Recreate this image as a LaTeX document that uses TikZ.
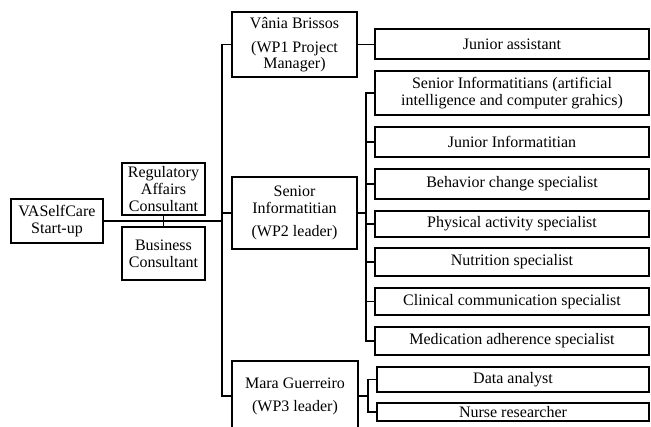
\documentclass[tikz,border=0pt]{standalone}
\usepackage{fontspec}
\setmainfont{Liberation Serif}
\begin{document}
\begin{tikzpicture}[x=1pt,y=-1pt,
  box/.style={draw, line width=1.3pt, inner sep=0pt, align=center,
    font=\fontsize{16}{17}\selectfont},
  con/.style={line width=1.3pt},
  thk/.style={line width=2.2pt}]
\useasboundingbox (0,0) rectangle (651,426);
\clip (0,0) rectangle (651,426);
% left
\node[box, minimum width=92pt, minimum height=44pt] (va) at (57,221) {VASelfCare\\Start-up};
\node[box, minimum width=83pt, minimum height=52pt] (reg) at (163.5,189) {Regulatory\\Affairs\\Consultant};
\node[box, minimum width=83pt, minimum height=53pt] (bus) at (163.5,253.5) {Business\\Consultant};
% middle
\node[box, minimum width=125pt, minimum height=65pt] (van) at (294.5,44.5) {V\^ania Brissos\\[7pt](WP1 Project\\[-1pt]Manager)};
\node[box, minimum width=125pt, minimum height=72pt] (wp2) at (294.5,213) {Senior\\Informatitian\\[6pt](WP2 leader)};
\node[box, minimum width=126pt, minimum height=70pt] (mara) at (295,396) {Mara Guerreiro\\[6pt](WP3 leader)};
% right
\node[box, minimum width=274pt, minimum height=30pt] (ja) at (512,44) {Junior assistant};
\node[box, minimum width=274pt, minimum height=44pt] (si) at (512,93) {Senior Informatitians (artificial\\intelligence and computer grahics)};
\node[box, minimum width=274pt, minimum height=30pt] (ji) at (512,142) {Junior Informatitian};
\node[box, minimum width=274pt, minimum height=30pt] (beh) at (512,184) {Behavior change specialist};
\node[box, minimum width=274pt, minimum height=26pt] (phy) at (512,224) {Physical activity specialist};
\node[box, minimum width=274pt, minimum height=28pt] (nut) at (512,262) {Nutrition specialist};
\node[box, minimum width=274pt, minimum height=27pt] (cli) at (512,301.5) {Clinical communication specialist};
\node[box, minimum width=274pt, minimum height=28pt] (med) at (512,341) {Medication adherence specialist};
\node[box, minimum width=272pt, minimum height=25pt] (da) at (513,379.5) {Data analyst};
\node[box, minimum width=272pt, minimum height=18pt] (nr) at (513,412) {Nurse researcher};
% connectors
\coordinate (trk) at (222,0);
\coordinate (b2) at (366,0);
\coordinate (b3) at (368,0);
\draw[thk] (va.east) -- (va.east -| trk);
\draw[con] (reg.south) -- (bus.north);
\draw[con] (van.west) -- (van.west -| trk) -- (mara.west -| trk) -- (mara.west);
\draw[con] (wp2.west) -- (wp2.west -| trk);
\draw[con] (van.east) -- (van.east -| ja.west);
\draw[thk] (wp2.east) -- (wp2.east -| b2);
\draw[con] (si.west) -- (si.west -| b2) -- (med.west -| b2) -- (med.west);
\foreach \n in {ji,beh,phy,nut,cli} \draw[con] (\n.west) -- (\n.west -| b2);
\draw[con] (mara.east) -- (mara.east -| b3);
\draw[con] (da.west) -- (da.west -| b3) -- (nr.west -| b3) -- (nr.west);
\end{tikzpicture}
\end{document}
